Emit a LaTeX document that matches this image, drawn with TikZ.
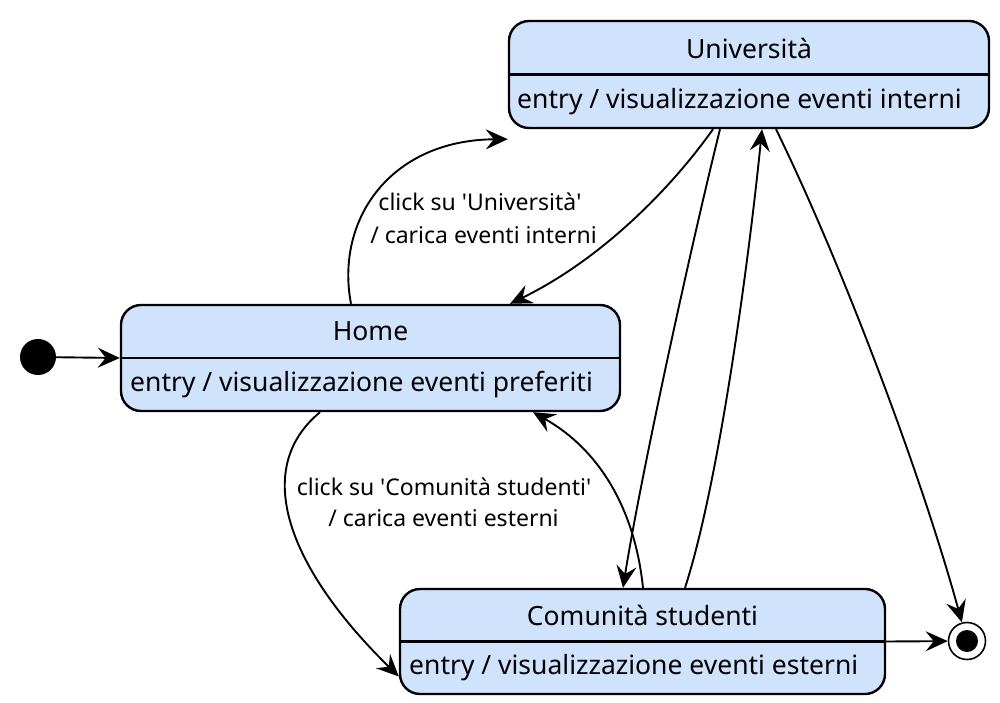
\documentclass[tikz,border=0pt]{standalone}
\usepackage{fontspec}
\setmainfont{Noto Sans}
\usetikzlibrary{arrows.meta,calc}
\definecolor{statefill}{RGB}{207,228,252}
\tikzset{
  statebox/.style={draw=black,line width=2.4pt,fill=statefill,rounded corners=20pt,inner sep=0pt},
  divider/.style={line width=2.4pt},
  titletext/.style={font=\fontsize{26.5}{32}\selectfont,inner sep=0pt,anchor=center},
  bodytext/.style={font=\fontsize{26.5}{32}\selectfont,inner sep=0pt,anchor=west},
  lbl/.style={font=\fontsize{23}{28}\selectfont,inner sep=0pt,align=center},
  conn/.style={line width=1.9pt,-{Stealth[length=22pt,width=20pt,inset=8pt]}},
}
\begin{document}
\begin{tikzpicture}[x=1pt,y=-1pt]
\useasboundingbox (0,0) rectangle (1000,703);
% states
\node[statebox,minimum width=480pt,minimum height=107pt] (uni) at (749,74.5) {};
\node[statebox,minimum width=499pt,minimum height=106pt] (home) at (370.5,358) {};
\node[statebox,minimum width=485pt,minimum height=105pt] (com) at (642.5,641.5) {};
\draw[divider] (uni.west) -- (uni.east);
\draw[divider] (home.west) -- (home.east);
\draw[divider] (com.west) -- (com.east);
\node[titletext] (unit) at (749,48) {Università};
\node[bodytext] (unib) at (517,102) {entry / visualizzazione eventi interni};
\node[titletext] (homet) at (370.5,331) {Home};
\node[bodytext] (homeb) at (130,385) {entry / visualizzazione eventi preferiti};
\node[titletext] (comt) at (642.5,615) {Comunità studenti};
\node[bodytext] (comb) at (409,668) {entry / visualizzazione eventi esterni};
% initial and final
\node[circle,fill=black,minimum size=36pt,inner sep=0pt] (init) at (38,357) {};
\node[circle,draw=black,line width=1.6pt,fill=white,minimum size=37pt,inner sep=0pt] (fin) at (967,641) {};
\node[circle,fill=black,minimum size=22pt,inner sep=0pt] (finin) at (967,641) {};
% connectors
\draw[conn] (init) -- (home.west);
\draw[conn] ([xshift=-19.5pt]home.north) .. controls (335,220) and (390,140) .. ([yshift=-10pt]uni.south west);
\draw[conn] ([xshift=-36pt]uni.south) .. controls (670,190) and (600,260) .. ([xshift=139.5pt]home.north);
\draw[conn] ([xshift=-50.5pt]home.south) .. controls (250,470) and (290,570) .. ([yshift=-35pt]com.west);
\draw[conn] ([xshift=0.5pt]com.north) .. controls (635,510) and (600,450) .. ([xshift=162.5pt]home.south);
\draw[conn] ([xshift=-29pt]uni.south) .. controls (690,250) and (640,480) .. ([xshift=-19.5pt]com.north);
\draw[conn] ([xshift=42.5pt]com.north) .. controls (720,480) and (750,250) .. ([xshift=13pt]uni.south);
\draw[conn] ([xshift=27pt]uni.south) .. controls (840,260) and (920,470) .. (fin);
\draw[conn] (com.east) -- (fin);
% labels
\node[lbl] (l1) at (480,202) {click su \textquotesingle Università\textquotesingle};
\node[lbl] (l2) at (483.5,235) {/ carica eventi interni};
\node[lbl] (l3) at (444,487) {click su \textquotesingle Comunità studenti\textquotesingle};
\node[lbl] (l4) at (443.5,518) {/ carica eventi esterni};
\end{tikzpicture}
\end{document}
